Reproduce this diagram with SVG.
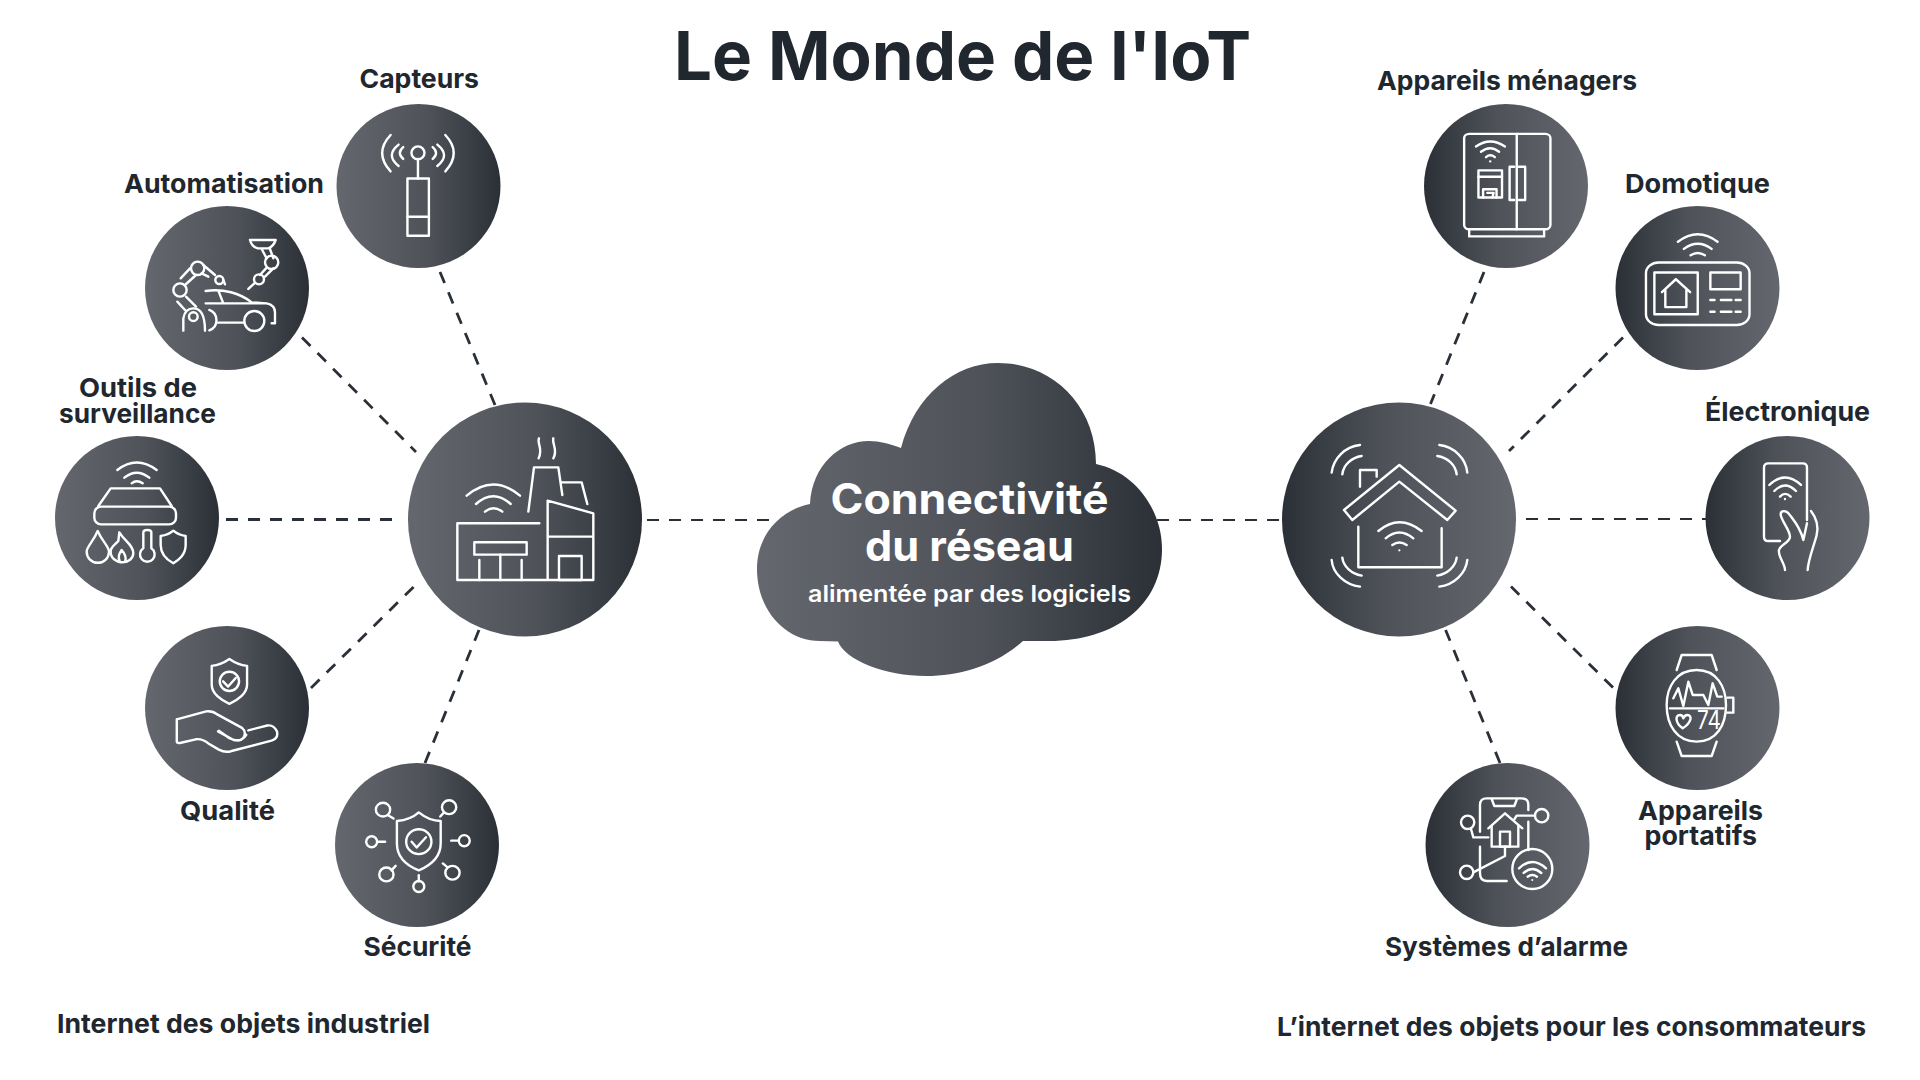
<svg xmlns="http://www.w3.org/2000/svg" width="1920" height="1080" viewBox="0 0 1920 1080">
<defs>
<linearGradient id="gl" x1="0" y1="0" x2="1" y2="0"><stop offset="0" stop-color="#64686e"/><stop offset="0.55" stop-color="#4f5359"/><stop offset="1" stop-color="#2b3037"/></linearGradient>
<linearGradient id="gr" x1="0" y1="0" x2="1" y2="0"><stop offset="0" stop-color="#2b3037"/><stop offset="0.45" stop-color="#4f5359"/><stop offset="1" stop-color="#64686e"/></linearGradient>
</defs>
<style>
text{font-family:"Inter","Liberation Sans",sans-serif;font-weight:700;fill:#21272f}
.lb{font-size:26px}
.w{fill:#fff}
.i *{fill:none;stroke:#fff;stroke-width:2.4;stroke-linecap:round;stroke-linejoin:round;vector-effect:non-scaling-stroke}
.i .d{fill:#fff;stroke:none}
.c line{stroke:#2a3038;stroke-width:2.8;stroke-dasharray:12 10}
.c line.t{stroke-width:2;stroke-dasharray:12 10}
</style>
<rect width="1920" height="1080" fill="#fff"/>
<text id="title" x="674" y="79.5" font-size="68" textLength="577" lengthAdjust="spacingAndGlyphs">Le Monde de l'IoT</text>
<g id="connectors" class="c">
<line x1="440" y1="272" x2="495" y2="405"/>
<line x1="302" y1="337.5" x2="416" y2="452"/>
<line x1="226" y1="519.500" x2="402" y2="519.500" style="stroke-width:3"/>
<line x1="311" y1="688" x2="414" y2="586.5"/>
<line x1="425" y1="763" x2="479" y2="630"/>
<line class="t" x1="647" y1="520" x2="773" y2="520"/>
<line class="t" x1="1157" y1="520" x2="1283" y2="520"/>
<line x1="1484" y1="272" x2="1430.5" y2="404"/>
<line x1="1623" y1="337.5" x2="1509" y2="451"/>
<line class="t" x1="1526" y1="519" x2="1706" y2="519"/>
<line x1="1613" y1="687.6" x2="1511" y2="586.5"/>
<line x1="1500" y1="763" x2="1445.6" y2="630"/>
</g>
<g id="cloud">
<path fill="url(#gl)" d="M901,448 C915,395 955,363 998,363 C1052,363 1096,405 1096,464 C1135,472 1162,510 1162,549 C1162,605 1115,641 1049,641 L1023,641 C995,666 960,676 926,676 C885,676 845,660 838,641.5 L820,641 C785,641 757,610 757,569 C757,535 780,510 810,504 C812,465 840,441 869,441 C880,441 890,444 901,448 Z"/>
<text class="w" x="830.500" y="514" font-size="42" textLength="278" lengthAdjust="spacingAndGlyphs">Connectivité</text>
<text class="w" x="865" y="561" font-size="42" textLength="209" lengthAdjust="spacingAndGlyphs">du réseau</text>
<text class="w" x="808" y="602" font-size="23" textLength="323" lengthAdjust="spacingAndGlyphs" style="font-weight:600">alimentée par des logiciels</text>
</g>
<g id="factory">
<circle cx="525" cy="519.5" r="117" fill="url(#gl)"/>
<g class="i" transform="translate(440 420) scale(.3333)">
<path d="M80,227 Q160,160 240,227M108,252 Q160,205 212,252M135,275 Q160,255 187,275"/>
<path d="M265,275 L282,142 L355,142 L367,225M365,187 L425,187 L442,252"/>
<path d="M297,55 C290,70 310,85 296,115M340,55 C335,70 355,90 340,115"/>
<path d="M298,310 L52,310 L52,480 L460,480 L460,280 L323,242 L323,480M323,350 L460,350"/>
<rect x="357" y="408" width="68" height="72"/><rect x="103" y="367" width="157" height="37"/>
<path d="M118,420 V480M181,404 V480M245,420 V480"/>
</g>
</g>
<g id="home">
<circle cx="1399" cy="519.5" r="117" fill="url(#gr)"/>
<g class="i" transform="translate(1310 430) scale(.3333)">
<path d="M268,105 L437,242 L412,270 L268,155 L127,270 L102,240 Z"/>
<path d="M150,170 L150,120 L200,120 L200,140M145,290 L145,412 L395,412 L395,295"/>
<path d="M205,303 Q268,250 335,303M227,325 Q268,290 310,325M247,345 Q268,330 290,345"/><circle class="d" cx="268" cy="361" r="3.5"/>
<path d="M65,128 C70,85 105,50 150,45M97,133 C100,105 125,82 155,78M472,128 C468,85 432,50 388,45M440,133 C437,105 412,82 382,78M65,390 C68,430 105,465 150,470M97,383 C100,410 125,432 155,437M472,390 C468,430 432,465 388,470M440,383 C437,410 412,432 382,437"/>
</g>
</g>
<g id="capteurs">
<circle cx="418.5" cy="186" r="82" fill="url(#gl)"/>
<g class="i" transform="scale(.4209 .3571)">
<rect x="968" y="500" width="51" height="160"/><path d="M968,607 H1019M993,445 V500"/>
<ellipse cx="993" cy="428" rx="15.5" ry="18"/>
<path d="M928,378 Q888,428 928,480M947,405 Q915,435 947,465M958,412 Q942,428 958,445M1058,378 Q1098,428 1058,480M1039,405 Q1071,435 1039,465M1028,412 Q1044,428 1028,445"/>
</g>
<text class="lb" x="359.500" y="87.5" textLength="119.500" lengthAdjust="spacingAndGlyphs">Capteurs</text>
</g>
<g id="automatisation">
<circle cx="227" cy="288" r="82" fill="url(#gl)"/>
<g class="i" transform="translate(160 225) scale(.3333)">
<path d="M137,198 C190,190 240,205 275,232 L320,235 Q345,240 345,262 L345,295 L335,295M137,235 L320,235M175,197 L190,235M175,293 L250,293M148,255 C175,265 178,305 148,316"/>
<circle cx="283" cy="288" r="30"/>
<circle cx="60" cy="195" r="20"/><circle cx="113" cy="130" r="20"/><circle cx="178" cy="165" r="12"/>
<path d="M62,160 L90,130M75,180 L108,150M130,120 L165,150M125,145 L145,155M190,165 L195,178M52,230 L75,255M78,215 L108,245"/>
<path d="M70,317 L70,280 Q75,250 100,250 Q135,250 135,317"/><circle cx="100" cy="275" r="13"/>
<path d="M270,45 L347,45 Q340,65 325,70 L293,70 Q275,65 270,45M305,72 L320,100M330,72 L340,100M318,130 L300,150M340,130 L315,155M283,175 L265,192"/>
<circle cx="335" cy="112" r="20"/><circle cx="297" cy="163" r="15"/>
</g>
<text class="lb" x="124" y="193" textLength="200" lengthAdjust="spacingAndGlyphs">Automatisation</text>
</g>
<g id="surveillance">
<circle cx="137" cy="518" r="82" fill="url(#gl)"/>
<g class="i" transform="translate(70 455) scale(.3333)">
<path d="M142,45 Q200,0 260,45M163,68 Q200,38 238,68M185,85 Q200,72 218,85"/>
<rect x="73" y="155" width="245" height="53" rx="20"/><path d="M85,153 L122,100 L270,100 L305,153"/>
<path d="M83,228 C70,260 50,275 50,290 A33,33 0 0 0 117,290 C117,275 97,260 83,228 Z"/>
<path d="M148,232 C165,260 190,270 190,295 C190,310 175,322 157,322 C140,322 122,310 122,290 C122,275 135,270 145,258 Z M150,322 C142,305 148,295 155,285 C165,295 170,310 165,320"/>
<path d="M220,280 L220,232 Q220,225 232,225 Q244,225 244,232 L244,280 A22,22 0 1 1 220,280 Z"/>
<path d="M272,243 Q295,240 310,227 Q325,240 347,243 L347,270 C347,300 325,315 310,325 C292,315 272,300 272,270 Z"/>
</g>
<text class="lb" x="79" y="397" textLength="118" lengthAdjust="spacingAndGlyphs">Outils de</text>
<text class="lb" x="59" y="423" textLength="157" lengthAdjust="spacingAndGlyphs">surveillance</text>
</g>
<g id="qualite">
<circle cx="227" cy="708" r="82" fill="url(#gl)"/>
<g class="i" transform="translate(0 540) scale(.4209 .3448)">
<path d="M545,345 Q565,362 587,365 L587,420 C587,445 565,465 545,475 C525,465 503,445 503,420 L503,365 Q525,362 545,345 Z"/>
<ellipse cx="545" cy="410" rx="23" ry="28"/><path d="M530,410 L542,425 L560,400"/>
<path d="M420,520 L490,497 Q505,495 515,505 L575,545 Q585,555 580,570 Q570,590 545,575 L520,553 M420,520 L420,585 Q420,590 430,588 L465,578 Q480,575 495,590 L520,608 Q535,618 550,612 L645,582 Q662,575 658,555 Q650,535 635,538 L590,552M518,555 L555,580 Q575,585 585,565"/>
</g>
<text class="lb" x="180" y="820" textLength="95" lengthAdjust="spacingAndGlyphs">Qualité</text>
</g>
<g id="securite">
<circle cx="417" cy="845" r="82" fill="url(#gl)"/>
<g class="i" transform="translate(0 540) scale(.4209 .3448)">
<path d="M995,790 Q1020,815 1047,815 L1047,880 C1047,920 1020,945 995,958 C968,945 943,920 943,880 L943,815 Q975,812 995,790 Z"/>
<ellipse cx="995" cy="875" rx="30" ry="36"/><path d="M978,875 L990,892 L1012,862"/>
<ellipse cx="910" cy="782" rx="17" ry="20"/><path d="M922,798 L935,808"/>
<ellipse cx="1067" cy="775" rx="17" ry="20"/><path d="M1055,790 L1046,802"/>
<ellipse cx="883" cy="875" rx="13" ry="16"/><path d="M897,875 H915"/>
<ellipse cx="1103" cy="872" rx="13" ry="16"/><path d="M1072,872 H1088"/>
<ellipse cx="918" cy="970" rx="17" ry="20"/><path d="M930,958 L940,945"/>
<ellipse cx="1075" cy="965" rx="17" ry="20"/><path d="M1062,948 L1052,938"/>
<ellipse cx="995" cy="1005" rx="13" ry="16"/><path d="M995,972 V990"/>
</g>
<text class="lb" x="363.500" y="955.500" textLength="108" lengthAdjust="spacingAndGlyphs">Sécurité</text>
</g>
<g id="menagers">
<circle cx="1506" cy="186" r="82" fill="url(#gr)"/>
<g class="i" transform="translate(1260 0) scale(.4209 .3571)">
<rect x="485" y="375" width="205" height="267" rx="12"/><path d="M610,375 V642M497,642 V662 H675 V642"/>
<path d="M513,410 Q547,382 582,410M525,425 Q547,405 568,425M537,440 Q547,430 558,440"/><circle class="d" cx="547" cy="452" r="3"/>
<rect x="519" y="477" width="56" height="76"/><path d="M519,495 H575M530,553 V530 H562 V553M540,540 H555 L552,553"/>
<path d="M604,467 H593 V560 H604M615,467 H630 V560 H615"/>
</g>
<text class="lb" x="1377" y="90" textLength="260" lengthAdjust="spacingAndGlyphs">Appareils ménagers</text>
</g>
<g id="domotique">
<circle cx="1697.500" cy="288" r="82" fill="url(#gr)"/>
<g class="i" transform="translate(1260 0) scale(.4209 .3571)">
<rect x="917" y="735" width="246" height="175" rx="30"/>
<path d="M993,677 Q1040,635 1087,677M1007,697 Q1040,668 1073,697M1023,715 Q1040,702 1057,715"/>
<rect x="937" y="763" width="103" height="117"/>
<path d="M955,818 L988,782 L1022,818M963,810 V860 H1013 V810"/>
<rect x="1070" y="763" width="72" height="47"/>
<path d="M1070,840 H1080M1095,840 H1120M1130,840 H1142M1070,873 H1080M1095,873 H1120M1130,873 H1142"/>
</g>
<text class="lb" x="1625" y="193" textLength="145" lengthAdjust="spacingAndGlyphs">Domotique</text>
</g>
<g id="electronique">
<circle cx="1787.500" cy="518" r="82" fill="url(#gr)"/>
<g class="i" transform="translate(1735 455) scale(.3333)">
<path d="M135,258 L100,258 Q87,258 87,245 L87,38 Q87,25 100,25 L203,25 Q216,25 216,38 L216,195"/>
<path d="M103,90 Q150,45 198,90M118,108 Q150,75 183,108M135,125 Q150,108 167,125"/><circle class="d" cx="150" cy="132" r="3.500"/>
<path d="M150,345 C150,325 128,305 132,285 C135,270 165,262 165,245 C165,225 137,195 137,178 C137,165 155,165 163,178 C175,195 195,215 205,255 L216,205"/>
<path d="M228,168 C245,190 252,210 245,240 C238,270 220,310 218,345"/>
</g>
<text class="lb" x="1705" y="421" textLength="165" lengthAdjust="spacingAndGlyphs">Électronique</text>
</g>
<g id="portatifs">
<circle cx="1697.500" cy="708" r="82" fill="url(#gr)"/>
<g class="i" transform="translate(1640 650) scale(.3333)">
<path d="M110,60 L125,15 L215,15 L230,60M110,275 L125,318 L215,318 L230,275"/>
<path d="M170,60 C110,60 80,110 80,165 C80,225 110,275 170,275 C230,275 258,225 258,165 C258,110 230,60 170,60 Z"/>
<path d="M262,143 H280 V188 H262M90,175 H250"/>
<path d="M100,145 L115,115 L130,168 L145,95 L158,135 L190,135 L205,165 L218,100 L232,140 L245,140"/>
<path d="M128,235 C105,218 105,195 120,195 Q128,195 130,205 Q134,195 142,195 C158,195 155,218 128,235 Z"/>
</g>
<text class="w" x="1697" y="729" font-size="25" textLength="24" lengthAdjust="spacingAndGlyphs" style="font-weight:400">74</text>
<text class="lb" x="1638" y="820" textLength="125" lengthAdjust="spacingAndGlyphs">Appareils</text>
<text class="lb" x="1644.500" y="845" textLength="112.500" lengthAdjust="spacingAndGlyphs">portatifs</text>
</g>
<g id="alarme">
<circle cx="1507.500" cy="845" r="82" fill="url(#gr)"/>
<g class="i" transform="translate(1445 785) scale(.3333)">
<path d="M105,140 L105,60 Q105,40 125,40 L230,40 Q250,40 250,60 L250,75M250,110 L250,195M140,42 L148,63 L208,63 L216,42M105,185 L105,265 Q105,288 125,288 L185,288"/>
<circle cx="68" cy="112" r="20"/><path d="M78,132 L85,157 L130,157"/>
<circle cx="290" cy="92" r="20"/><path d="M270,92 L215,92 L208,103"/>
<circle cx="65" cy="262" r="20"/><path d="M85,262 L180,213 L180,185"/>
<path d="M130,130 L180,85 L232,130M140,122 L140,185 L220,185 L220,122"/><rect x="165" y="140" width="30" height="45"/>
<circle cx="262" cy="252" r="60"/>
<path d="M222,250 Q262,212 303,250M236,264 Q262,240 289,264M248,275 Q262,265 276,275"/><circle class="d" cx="262" cy="285" r="3"/>
</g>
<text class="lb" x="1385" y="955.500" textLength="243" lengthAdjust="spacingAndGlyphs">Systèmes d’alarme</text>
</g>
<text id="label-industriel" class="lb" x="57" y="1033" textLength="373" lengthAdjust="spacingAndGlyphs">Internet des objets industriel</text>
<text id="label-consommateurs" class="lb" x="1277" y="1036" textLength="589" lengthAdjust="spacingAndGlyphs">L’internet des objets pour les consommateurs</text>
</svg>
